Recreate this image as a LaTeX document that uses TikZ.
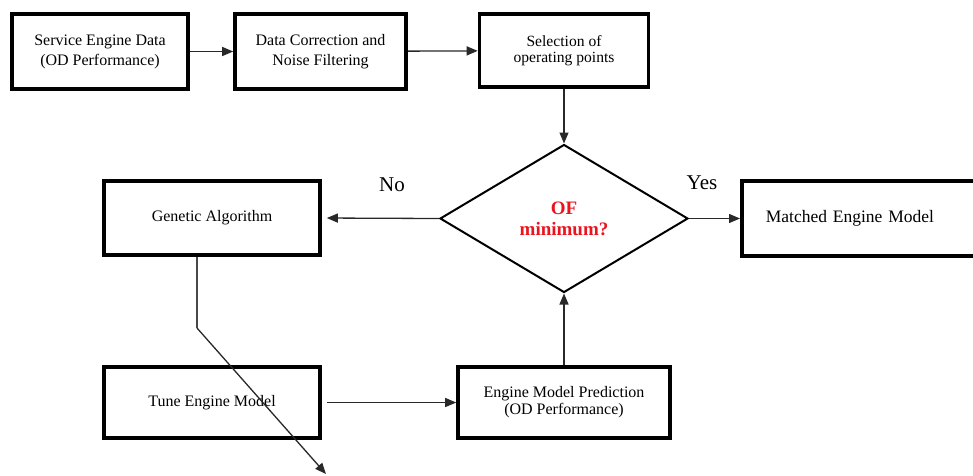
\documentclass[tikz,border=0pt]{standalone}
\usepackage{fontspec}
\setmainfont{Liberation Serif}
\newfontfamily\tnr{Liberation Serif}
\usetikzlibrary{arrows.meta,shapes.geometric}
\definecolor{ofred}{RGB}{235,20,30}
\definecolor{lnk}{RGB}{40,40,40}
\tikzset{
  box/.style={draw, line width=3.6pt, rectangle, inner sep=0pt, align=center,
    font=\tnr\fontsize{16}{20}\selectfont},
  conn/.style={draw=lnk, line width=1.3pt, -{Triangle[length=11pt,width=9pt]}},
  plain/.style={draw=lnk!85, line width=1.3pt},
  lbl/.style={font=\tnr\fontsize{21}{24}\selectfont, inner sep=0pt},
}
\begin{document}
\begin{tikzpicture}[x=1pt,y=-1pt]
\useasboundingbox (0,0) rectangle (973,475);
\clip (0,0) rectangle (973,475);
% top row
\node[box, minimum width=176pt, minimum height=75pt] (s1) at (100,51.5) {Service Engine Data\\(OD Performance)};
\node[box, minimum width=171pt, minimum height=75pt] (s2) at (320.5,51.5) {Data Correction and\\Noise Filtering};
\node[box, minimum width=169pt, minimum height=73pt, font=\tnr\fontsize{15.6}{16.5}\selectfont] (s3) at (564,50.5) {Selection of\\operating points};
% decision
\node[draw, diamond, line width=2pt, inner sep=0pt, minimum width=248pt, minimum height=148pt,
  align=center, text=ofred, font=\tnr\fontsize{19}{21}\selectfont\bfseries] (d) at (564,218.5) {OF\\minimum?};
% matched
\node[box, anchor=west, minimum height=75pt, text width=230pt, inner xsep=24pt, align=left,
  font=\tnr\fontsize{17.5}{20}\selectfont] (m) at (740,218.5) {Matched Engine Model};
% genetic
\node[box, minimum width=216pt, minimum height=74pt] (g) at (212,218) {Genetic Algorithm};
% tune
\node[box, minimum width=216pt, minimum height=71pt] (t) at (212,402.5) {Tune Engine Model};
% prediction
\node[box, minimum width=212pt, minimum height=71pt, font=\tnr\fontsize{16}{17}\selectfont] (p) at (564,402.5) {Engine Model Prediction\\(OD Performance)};
% labels
\node[lbl] (no) at (392,185) {No};
\node[lbl] (yes) at (702,183) {Yes};
% connectors
\draw[conn] (s1) -- (s2);
\draw[conn] (s2) -- (s3);
\draw[conn] (s3) -- (d);
\draw[conn] (d.east) -- (m.west);
\draw[conn, shorten >=5pt] (d.west) -- (g.east);
\draw[conn, shorten <=5pt] (t.east) -- (p.west);
\draw[conn] (p.north) -- (d.south);
\coordinate (bend) at (197,328);
\coordinate (loose) at (326,474);
\draw[plain] (bend |- g.south) -- (bend);
\draw[conn] (bend) -- (loose);
\end{tikzpicture}
\end{document}
